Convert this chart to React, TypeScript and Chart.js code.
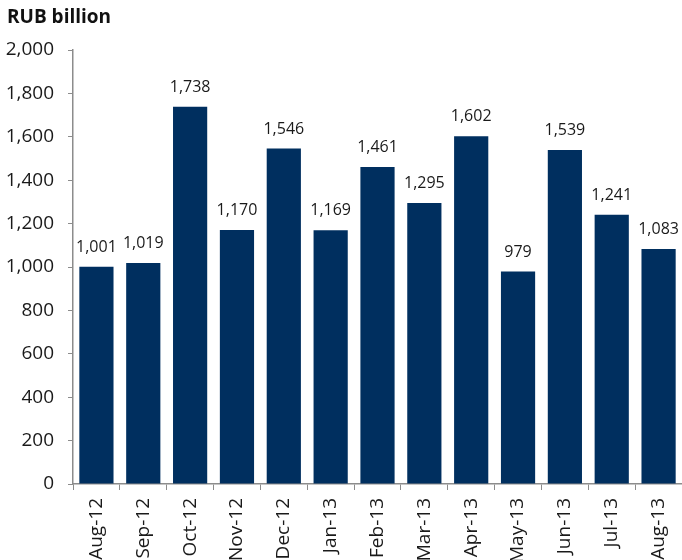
import React, { useEffect, useRef } from "react";
import { Chart, registerables } from "chart.js";

Chart.register(...registerables);

const categories = ["Aug-12", "Sep-12", "Oct-12", "Nov-12", "Dec-12", "Jan-13", "Feb-13", "Mar-13", "Apr-13", "May-13", "Jun-13", "Jul-13", "Aug-13"];
const values = [1001, 1019, 1738, 1170, 1546, 1169, 1461, 1295, 1602, 979, 1539, 1241, 1083];
const titleText = "RUB billion";

const fmt = (v: number) => v.toLocaleString("en-US");

export default function App() {
  const ref = useRef<HTMLCanvasElement | null>(null);
  useEffect(() => {
    if (!ref.current) return;
    const labelPlugin = {
      id: "valueLabels",
      afterDatasetsDraw(chart: any) {
        const ctx = chart.ctx;
        const meta = chart.getDatasetMeta(0);
        ctx.save();
        ctx.font = "16px 'Open Sans'";
        ctx.fillStyle = "#1a1a1a";
        ctx.textAlign = "center";
        ctx.textBaseline = "alphabetic";
        meta.data.forEach((bar: any, i: number) => {
          ctx.fillText(fmt(values[i]), bar.x, bar.y - 15);
        });
        ctx.restore();
      },
      afterDraw(chart: any) {
        const ctx = chart.ctx;
        ctx.save();
        ctx.font = "bold 19px 'Open Sans'";
        ctx.fillStyle = "#111";
        ctx.textAlign = "left";
        ctx.textBaseline = "middle";
        ctx.fillText(titleText, 7, 18);
        ctx.restore();
      },
    };
    const chart = new Chart(ref.current, {
      type: "bar",
      data: {
        labels: categories,
        datasets: [
          {
            data: values,
            backgroundColor: "#002F5F",
            borderWidth: 0,
            barPercentage: 0.73,
            categoryPercentage: 1,
          },
        ],
      },
      options: {
        animation: false,
        responsive: false,
        maintainAspectRatio: false,
        layout: { padding: { top: 50, left: 0, right: 0, bottom: 0 } },
        plugins: { legend: { display: false }, tooltip: { enabled: false }, title: { display: false } },
        scales: {
          x: {
            offset: true,
            grid: { offset: true, drawOnChartArea: false, drawTicks: true, tickLength: 6, color: "#8c8c8c" },
            border: { color: "#8c8c8c", width: 1.5 },
            ticks: {
              minRotation: 90,
              maxRotation: 90,
              padding: 8,
              color: "#1a1a1a",
              font: { family: "'Open Sans'", size: 19 },
            },
            afterFit(scale: any) {
              scale.height = 76;
              scale.paddingLeft = 0;
              scale.paddingRight = 0;
            },
          },
          y: {
            min: 0,
            max: 2000,
            ticks: {
              stepSize: 200,
              padding: 14,
              color: "#1a1a1a",
              font: { family: "'Open Sans'", size: 19 },
              callback: (v: any) => fmt(Number(v)),
            },
            grid: { drawOnChartArea: false, drawTicks: true, tickLength: 5, color: "#8c8c8c" },
            border: { color: "#8c8c8c", width: 1.5 },
            afterFit(scale: any) {
              scale.width = 73;
            },
          },
        },
      },
      plugins: [labelPlugin],
    });
    return () => chart.destroy();
  }, []);
  return (
    <div style={{ position: "absolute", left: 0, top: 0, width: 682, height: 560, background: "#fff" }}>
      <canvas ref={ref} width={682} height={560} style={{ width: 682, height: 560 }} />
    </div>
  );
}
